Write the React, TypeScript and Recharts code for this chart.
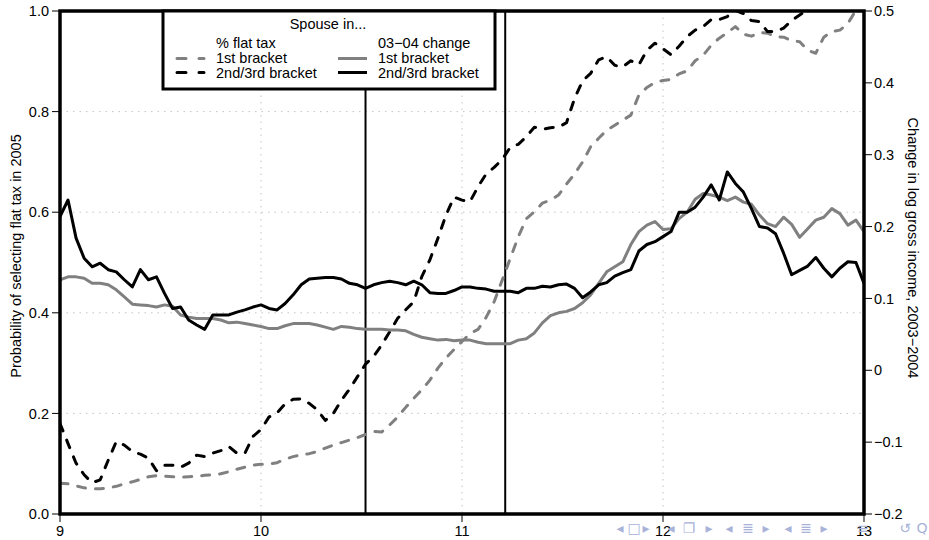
import React from "react";
import {
  LineChart,
  Line,
  XAxis,
  YAxis,
  CartesianGrid,
  ReferenceLine,
} from "recharts";

// log income of primary earner (x grid of the smoothed curves)
const xs = [
  9.0, 9.04, 9.08, 9.12, 9.16, 9.2, 9.24, 9.28, 9.32, 9.36,
  9.4, 9.44, 9.48, 9.52, 9.56, 9.6, 9.64, 9.68, 9.72, 9.76,
  9.8, 9.84, 9.88, 9.92, 9.96, 10.0, 10.04, 10.08, 10.12, 10.16,
  10.2, 10.24, 10.28, 10.32, 10.36, 10.4, 10.44, 10.48, 10.52, 10.56,
  10.6, 10.64, 10.68, 10.72, 10.76, 10.8, 10.84, 10.88, 10.92, 10.96,
  11.0, 11.04, 11.08, 11.12, 11.16, 11.2, 11.24, 11.28, 11.32, 11.36,
  11.4, 11.44, 11.48, 11.52, 11.56, 11.6, 11.64, 11.68, 11.72, 11.76,
  11.8, 11.84, 11.88, 11.92, 11.96, 12.0, 12.04, 12.08, 12.12, 12.16,
  12.2, 12.24, 12.28, 12.32, 12.36, 12.4, 12.44, 12.48, 12.52, 12.56,
  12.6, 12.64, 12.68, 12.72, 12.76, 12.8, 12.84, 12.88, 12.92, 12.96,
  13.0,
];

// % flat tax, spouse in 1st bracket (left axis)
const flat1 = [
  0.061, 0.06, 0.056, 0.052, 0.05, 0.05, 0.052, 0.055, 0.06, 0.064,
  0.069, 0.074, 0.076, 0.075, 0.074, 0.073, 0.074, 0.075, 0.077, 0.078,
  0.08, 0.084, 0.089, 0.093, 0.097, 0.099, 0.099, 0.102, 0.109, 0.114,
  0.118, 0.12, 0.124, 0.131, 0.137, 0.142, 0.147, 0.152, 0.158, 0.164,
  0.163, 0.177, 0.193, 0.212, 0.23, 0.247, 0.266, 0.29, 0.31, 0.327,
  0.343, 0.359, 0.367, 0.391, 0.422, 0.465, 0.508, 0.551, 0.587, 0.601,
  0.618, 0.624, 0.634, 0.656, 0.676, 0.7, 0.73, 0.747, 0.763, 0.773,
  0.783, 0.793, 0.833, 0.848, 0.858, 0.862, 0.864, 0.875, 0.881, 0.901,
  0.912, 0.932, 0.946, 0.957, 0.969, 0.954, 0.95, 0.957, 0.956, 0.949,
  0.948, 0.941, 0.939, 0.922, 0.916, 0.948, 0.959, 0.962, 0.975, 1.002,
  1.02,
];

// % flat tax, spouse in 2nd/3rd bracket (left axis)
const flat23 = [
  0.18, 0.14, 0.101, 0.078, 0.062, 0.068, 0.107, 0.144, 0.137, 0.124,
  0.119, 0.111, 0.086, 0.097, 0.097, 0.093, 0.101, 0.117, 0.114, 0.121,
  0.126, 0.134, 0.121, 0.121, 0.154, 0.168, 0.193, 0.201, 0.219, 0.228,
  0.229, 0.22, 0.207, 0.186, 0.2, 0.226, 0.248, 0.273, 0.298, 0.313,
  0.336, 0.362, 0.389, 0.406, 0.422, 0.472, 0.505, 0.548, 0.594, 0.63,
  0.624, 0.621, 0.651, 0.676, 0.689, 0.705, 0.729, 0.735, 0.75, 0.769,
  0.765, 0.768, 0.769, 0.778, 0.826, 0.861, 0.876, 0.903, 0.909, 0.892,
  0.889, 0.901, 0.893, 0.922, 0.936, 0.925, 0.913, 0.93, 0.949, 0.962,
  0.969, 0.983, 0.983, 0.989, 1.001, 0.995, 0.981, 0.979, 0.959, 0.959,
  0.966, 0.981, 0.992, 1.003, 1.02, 1.03, 1.03, 1.04, 1.05, 1.05,
  1.06,
];

// 03-04 change in log gross income, spouse in 1st bracket (right axis)
const chg1 = [
  0.126, 0.13, 0.13, 0.128, 0.121, 0.121, 0.119, 0.112, 0.102, 0.092,
  0.091, 0.09, 0.088, 0.091, 0.089, 0.077, 0.074, 0.072, 0.072, 0.072,
  0.07, 0.066, 0.067, 0.065, 0.063, 0.061, 0.058, 0.058, 0.062, 0.065,
  0.065, 0.065, 0.063, 0.06, 0.057, 0.061, 0.06, 0.058, 0.057, 0.057,
  0.057, 0.056, 0.056, 0.055, 0.05, 0.046, 0.044, 0.042, 0.043, 0.041,
  0.042, 0.042, 0.039, 0.037, 0.037, 0.037, 0.037, 0.042, 0.044, 0.052,
  0.066, 0.076, 0.08, 0.082, 0.086, 0.094, 0.105, 0.121, 0.137, 0.144,
  0.151, 0.175, 0.193, 0.202, 0.207, 0.196, 0.197, 0.211, 0.22, 0.238,
  0.246, 0.244, 0.241, 0.236, 0.241, 0.234, 0.231, 0.216, 0.204, 0.2,
  0.213, 0.203, 0.185, 0.197, 0.209, 0.213, 0.225, 0.218, 0.202, 0.209,
  0.193,
];

// 03-04 change in log gross income, spouse in 2nd/3rd bracket (right axis)
const chg23 = [
  0.214, 0.237, 0.184, 0.156, 0.144, 0.149, 0.14, 0.137, 0.126, 0.116,
  0.14, 0.126, 0.13, 0.107, 0.086, 0.088, 0.07, 0.063, 0.057, 0.077,
  0.077, 0.077, 0.081, 0.084, 0.088, 0.091, 0.086, 0.084, 0.093, 0.105,
  0.119, 0.127, 0.128, 0.129, 0.129, 0.127, 0.121, 0.119, 0.114, 0.119,
  0.122, 0.124, 0.122, 0.119, 0.124, 0.119, 0.108, 0.107, 0.107, 0.111,
  0.116, 0.116, 0.114, 0.113, 0.11, 0.11, 0.11, 0.108, 0.114, 0.114,
  0.117, 0.116, 0.119, 0.12, 0.114, 0.101, 0.109, 0.119, 0.122, 0.131,
  0.136, 0.14, 0.166, 0.175, 0.179, 0.186, 0.193, 0.22, 0.22, 0.227,
  0.241, 0.258, 0.237, 0.276, 0.26, 0.248, 0.225, 0.2, 0.198, 0.19,
  0.163, 0.133, 0.139, 0.145, 0.157, 0.142, 0.13, 0.142, 0.151, 0.15,
  0.121,
];

const xTicks = [9, 10, 11, 12, 13];
const leftTicks = [0, 0.2, 0.4, 0.6, 0.8, 1];
const rightTicks = [-0.2, -0.1, 0, 0.1, 0.2, 0.3, 0.4, 0.5];
const bracketCuts = [10.52, 11.215];

const data = xs.map((x, i) => ({
  x,
  flat1: flat1[i],
  flat23: flat23[i],
  chg1: chg1[i],
  chg23: chg23[i],
}));

const FONT = '"Liberation Sans", Arial, Helvetica, sans-serif';
const GRAY = "#808080";
const tickStyle = { fill: "#000", fontSize: 14.5, fontFamily: FONT };

// plot box (matches the chart margins / axis widths below)
const PLOT = { x: 60, y: 11, w: 804, h: 503 };

const fmtRight = (v: number) => (Math.abs(v) < 1e-9 ? "0" : v.toFixed(1).replace("-", "\u2212"));

const navSymbols: [string, number][] = [
  ["\u25C2", 620], ["\u25A1", 634], ["\u25B8", 646], ["\u25C2", 671], ["\u2750", 689],
  ["\u25B8", 709], ["\u25C2", 729], ["\u2263", 748], ["\u25B8", 766], ["\u25C2", 788],
  ["\u2263", 806], ["\u25B8", 824], ["\u2261", 863], ["\u21BA", 905], ["Q", 922],
];

export default function App() {
  return (
    <div style={{ position: "absolute", left: 0, top: 0, width: 929, height: 540, background: "#fff" }}>
      <LineChart width={929} height={540} data={data} margin={{ top: 11, right: 0, bottom: 0, left: 0 }}>
        <CartesianGrid yAxisId="left" stroke="#c4c4c4" strokeDasharray="1.5 5" />
        <XAxis
          dataKey="x"
          type="number"
          domain={[9, 13]}
          ticks={xTicks}
          allowDataOverflow
          axisLine={false}
          tickLine={{ stroke: "#000" }}
          tickSize={8}
          tickMargin={4}
          height={26}
          tick={tickStyle}
          interval={0}
        />
        <YAxis
          yAxisId="left"
          domain={[0, 1]}
          ticks={leftTicks}
          allowDataOverflow
          width={60}
          axisLine={false}
          tickLine={{ stroke: "#000" }}
          tickSize={8}
          tickMargin={3}
          tick={tickStyle}
          tickFormatter={(v: number) => v.toFixed(1)}
          interval={0}
        />
        <YAxis
          yAxisId="right"
          orientation="right"
          domain={[-0.2, 0.5]}
          ticks={rightTicks}
          allowDataOverflow
          width={65}
          axisLine={false}
          tickLine={{ stroke: "#000" }}
          tickSize={8}
          tickMargin={2}
          tick={tickStyle}
          tickFormatter={fmtRight}
          interval={0}
        />
        {bracketCuts.map((c) => (
          <ReferenceLine key={c} yAxisId="left" x={c} stroke="#000" strokeWidth={2} />
        ))}
        <Line yAxisId="left" dataKey="flat1" type="linear" stroke={GRAY} strokeWidth={3}
          strokeDasharray="8 10" strokeLinecap="round" strokeLinejoin="round" dot={false} isAnimationActive={false} />
        <Line yAxisId="left" dataKey="flat23" type="linear" stroke="#000" strokeWidth={3}
          strokeDasharray="8 10" strokeLinecap="round" strokeLinejoin="round" dot={false} isAnimationActive={false} />
        <Line yAxisId="right" dataKey="chg1" type="linear" stroke={GRAY} strokeWidth={3}
          strokeLinejoin="round" dot={false} isAnimationActive={false} />
        <Line yAxisId="right" dataKey="chg23" type="linear" stroke="#000" strokeWidth={3}
          strokeLinejoin="round" dot={false} isAnimationActive={false} />
      </LineChart>

      <svg width={929} height={540} style={{ position: "absolute", left: 0, top: 0, pointerEvents: "none" }}
        fontFamily={FONT} fontSize={14.5}>
        <rect x={PLOT.x} y={PLOT.y} width={PLOT.w} height={PLOT.h} fill="none" stroke="#000" strokeWidth={3.5} />

        <text transform="translate(16,256) rotate(-90)" textAnchor="middle" dominantBaseline="central">
          Probability of selecting flat tax in 2005
        </text>
        <text transform="translate(913,248) rotate(90)" textAnchor="middle" dominantBaseline="central">
          Change in log gross income, 2003{"\u2212"}2004
        </text>

        <rect x={163} y={11} width={332} height={78} fill="#fff" stroke="#000" strokeWidth={3} />
        <text x={328} y={29} textAnchor="middle">Spouse in...</text>
        <text x={216} y={48}>% flat tax</text>
        <text x={216} y={63}>1st bracket</text>
        <text x={216} y={77.5}>2nd/3rd bracket</text>
        <text x={378} y={48}>03{"\u2212"}04 change</text>
        <text x={378} y={63}>1st bracket</text>
        <text x={378} y={77.5}>2nd/3rd bracket</text>
        <line x1={177} x2={204} y1={58.5} y2={58.5} stroke={GRAY} strokeWidth={3} strokeDasharray="9 13" strokeLinecap="round" />
        <line x1={177} x2={204} y1={72.5} y2={72.5} stroke="#000" strokeWidth={3} strokeDasharray="9 13" strokeLinecap="round" />
        <line x1={338} x2={367} y1={58.5} y2={58.5} stroke={GRAY} strokeWidth={3} />
        <line x1={338} x2={367} y1={72.5} y2={72.5} stroke="#000" strokeWidth={3} />

        {navSymbols.map(([s, x], i) => (
          <text key={i} x={x} y={533} textAnchor="middle" fontSize={14} fill="#a9b2d9"
            fontFamily='"DejaVu Sans", sans-serif'>
            {s}
          </text>
        ))}
      </svg>
    </div>
  );
}
